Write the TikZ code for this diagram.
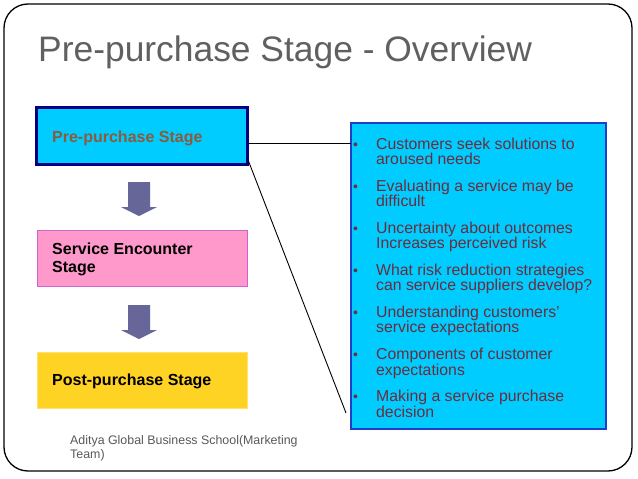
\documentclass[tikz,border=0pt]{standalone}
\usepackage{fontspec}
\setmainfont{Liberation Sans}
\usetikzlibrary{calc}
\definecolor{cyanbox}{HTML}{00CCFF}
\definecolor{navyborder}{HTML}{000080}
\definecolor{pinkbox}{HTML}{FF99CC}
\definecolor{pinkborder}{HTML}{CC66CC}
\definecolor{yellowbox}{HTML}{FFD324}
\definecolor{yellowborder}{HTML}{FFE070}
\definecolor{blueborder}{HTML}{1F3FC8}
\definecolor{titlegray}{HTML}{606060}
\definecolor{footgray}{HTML}{595959}
\definecolor{browntext}{HTML}{8C5A3C}
\definecolor{itemred}{HTML}{6B2D3D}
\definecolor{arrowfill}{HTML}{666699}
\tikzset{
  stagebox/.style={inner sep=0pt, outer sep=0pt},
  stagetext/.style={anchor=base west, inner sep=0pt, font=\fontsize{16}{18}\selectfont\bfseries},
  itemtext/.style={anchor=base west, inner sep=0pt, text=itemred, font=\fontsize{15.8}{15.5}\selectfont},
  bulletmark/.style={inner sep=0pt, text=itemred, font=\fontsize{14}{14}\selectfont},
  downarrow/.style={fill=arrowfill},
  link/.style={draw=black, line width=0.9pt}
}
\begin{document}
\begin{tikzpicture}[x=1pt,y=-1pt]
\useasboundingbox (0,0) rectangle (638,479);
\fill[white] (0,0) rectangle (638,479);
% frame
\draw[line width=1.3pt, rounded corners=24pt] (4,4) rectangle (632,471);
% title
\node[anchor=base west, inner sep=0pt, text=titlegray, font=\fontsize{35.4}{42}\selectfont] (title) at (38,61) {Pre-purchase Stage - Overview};
% stage boxes
\node[stagebox, draw=navyborder, line width=3pt, fill=cyanbox, minimum width=211pt, minimum height=57pt] (box1) at (142,136) {};
\node[stagebox, draw=pinkborder, line width=1pt, fill=pinkbox, minimum width=210pt, minimum height=56pt] (box2) at (142.5,258.5) {};
\node[stagebox, draw=yellowborder, line width=1pt, fill=yellowbox, minimum width=210pt, minimum height=56pt] (box3) at (142.5,380.5) {};
\node[stagetext, text=browntext] (t1) at (52,142) {Pre-purchase Stage};
\node[stagetext, text=black] (t2) at (52,254) {\parbox[t]{180pt}{\raggedright Service Encounter\\Stage}};
\node[stagetext, text=black] (t3) at (52,385) {Post-purchase Stage};
% down arrows
\fill[downarrow] (128,182) -- (150,182) -- (150,207) -- (157,207) -- (139,216) -- (121,207) -- (128,207) -- cycle;
\fill[downarrow] (128,305) -- (150,305) -- (150,330) -- (157,330) -- (139,339) -- (121,330) -- (128,330) -- cycle;
% right box
\node[stagebox, draw=blueborder, line width=2pt, fill=cyanbox, minimum width=255pt, minimum height=306pt] (right) at (478.5,276) {};
\foreach \i/\txt in {
  0/{Customers seek solutions to\\aroused needs},
  1/{Evaluating a service may be\\difficult},
  2/{Uncertainty about outcomes\\Increases perceived risk},
  3/{What risk reduction strategies\\can service suppliers develop?},
  4/{Understanding customers'\\service expectations},
  5/{Components of customer\\expectations},
  6/{Making a service purchase\\decision}} {
  \node[itemtext] (it\i) at (376,{149+42.1*\i}) {\parbox[t]{228pt}{\raggedright \txt}};
  \node[bulletmark] (b\i) at (355.5,{146+42.1*\i}) {\textbullet};
}
% connectors
\coordinate (lowend) at (346,413);
\draw[link] (box1.east) ++(0,7) -- (right.west |- 0,143);
\draw[link] ($(box1.south east)+(0,-6)$) -- (lowend);
% footer
\node[anchor=base west, inner sep=0pt, text=footgray, font=\fontsize{12.4}{14}\selectfont] (footer) at (70,444) {\parbox[t]{260pt}{\raggedright Aditya Global Business School(Marketing\\Team)}};
\end{tikzpicture}
\end{document}
